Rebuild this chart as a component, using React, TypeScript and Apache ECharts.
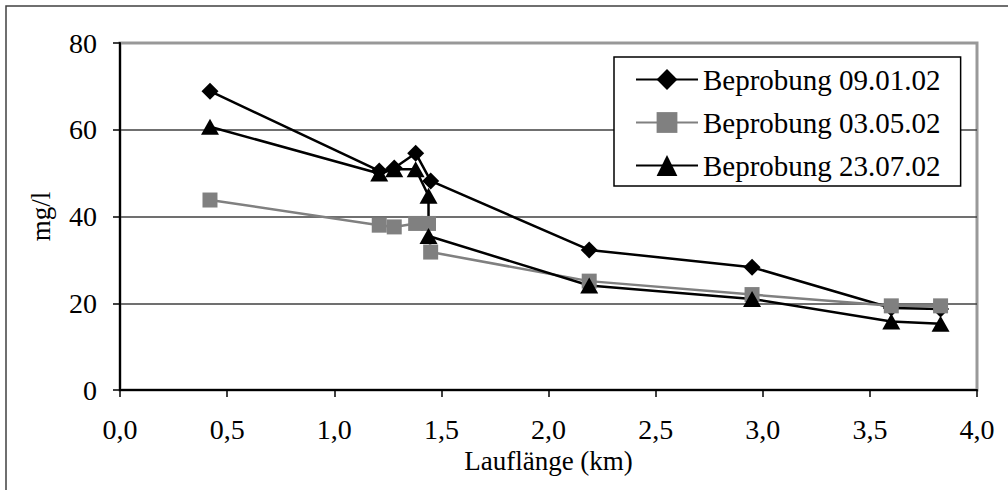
import React, { useEffect, useRef } from "react";
import * as echarts from "echarts";

const seriesNames = ["Beprobung 09.01.02", "Beprobung 03.05.02", "Beprobung 23.07.02"];

const s1X = [0.42, 1.21, 1.28, 1.38, 1.45, 2.19, 2.95, 3.6, 3.83];
const s1Y = [68.9, 50.5, 51.2, 54.6, 48.2, 32.3, 28.3, 18.9, 18.7];

const s2X = [0.42, 1.21, 1.28, 1.38, 1.44, 1.45, 2.19, 2.95, 3.6, 3.83];
const s2Y = [43.8, 38.0, 37.6, 38.4, 38.4, 31.8, 25.1, 22.0, 19.4, 19.4];

const s3X = [0.42, 1.21, 1.28, 1.38, 1.44, 1.44, 2.19, 2.95, 3.6, 3.83];
const s3Y = [60.7, 49.9, 50.9, 50.9, 44.8, 35.5, 24.1, 21.0, 15.8, 15.3];

const xTicks = [0, 0.5, 1, 1.5, 2, 2.5, 3, 3.5, 4];
const yTicks = [0, 20, 40, 60, 80];

const FONT = '"Liberation Serif", "Times New Roman", serif';

const zip = (xs: number[], ys: number[]) => xs.map((x, i) => [x, ys[i]]);

export default function App() {
  const ref = useRef<HTMLDivElement>(null);
  useEffect(() => {
    if (!ref.current) return;
    const chart = echarts.init(ref.current, undefined, { renderer: "svg" });
    chart.setOption({
      animation: false,
      backgroundColor: "#fff",
      textStyle: { fontFamily: FONT, color: "#000" },
      graphic: [
        {
          type: "rect",
          shape: { x: 6, y: 6, width: 1100, height: 600 },
          style: { fill: "none", stroke: "#404040", lineWidth: 1.5 },
          silent: true,
        },
      ],
      grid: {
        left: 120,
        right: 31,
        top: 43,
        bottom: 100,
        show: true,
        borderColor: "#999",
        borderWidth: 3,
        backgroundColor: "transparent",
      },
      legend: {
        orient: "vertical",
        left: 614,
        top: 57,
        padding: [8, 20, 6, 21],
        itemGap: 14,
        itemWidth: 62,
        itemHeight: 26,
        borderColor: "#000",
        borderWidth: 1.5,
        backgroundColor: "#fff",
        textStyle: { fontFamily: FONT, fontSize: 29, color: "#000", lineHeight: 29, padding: [0, 0, 0, 0] },
        data: seriesNames,
      },
      xAxis: {
        type: "value",
        min: xTicks[0],
        max: xTicks[xTicks.length - 1],
        interval: 0.5,
        name: "Lauflänge (km)",
        nameLocation: "middle",
        nameGap: 50,
        nameTextStyle: { fontFamily: FONT, fontSize: 27, color: "#000" },
        axisLine: { show: true, lineStyle: { color: "#000", width: 2 } },
        axisTick: { show: true, inside: false, length: 7, lineStyle: { color: "#000", width: 1.5 } },
        axisLabel: {
          fontFamily: FONT,
          fontSize: 28,
          color: "#000",
          margin: 25,
          formatter: (v: number) => v.toFixed(1).replace(".", ","),
        },
        splitLine: { show: false },
      },
      yAxis: {
        type: "value",
        min: yTicks[0],
        max: yTicks[yTicks.length - 1],
        interval: 20,
        name: "mg/l",
        nameLocation: "middle",
        nameGap: 66,
        nameRotate: 90,
        nameTextStyle: { fontFamily: FONT, fontSize: 27, color: "#000" },
        axisLine: { show: true, lineStyle: { color: "#000", width: 2 } },
        axisTick: { show: true, inside: false, length: 7, lineStyle: { color: "#000", width: 1.5 } },
        axisLabel: { fontFamily: FONT, fontSize: 28, color: "#000", margin: 23 },
        splitLine: {
          show: true,
          lineStyle: { color: ["#000", "#404040", "#404040", "#404040", "#999"], width: 1.5 },
        },
      },
      series: [
        {
          name: seriesNames[0],
          type: "line",
          data: zip(s1X, s1Y),
          symbol: "diamond",
          symbolSize: 17,
          showSymbol: true,
          lineStyle: { color: "#000", width: 2.5 },
          itemStyle: { color: "#000" },
        },
        {
          name: seriesNames[1],
          type: "line",
          data: zip(s2X, s2Y),
          symbol: "rect",
          symbolSize: 15,
          lineStyle: { color: "#808080", width: 2.5 },
          itemStyle: { color: "#808080" },
        },
        {
          name: seriesNames[2],
          type: "line",
          data: zip(s3X, s3Y),
          symbol: "triangle",
          symbolSize: [18, 16],
          lineStyle: { color: "#000", width: 2.5 },
          itemStyle: { color: "#000" },
        },
      ],
    });
    return () => chart.dispose();
  }, []);
  return (
    <div
      ref={ref}
      style={{ position: "absolute", left: 0, top: 0, width: 1008, height: 490 }}
    />
  );
}
